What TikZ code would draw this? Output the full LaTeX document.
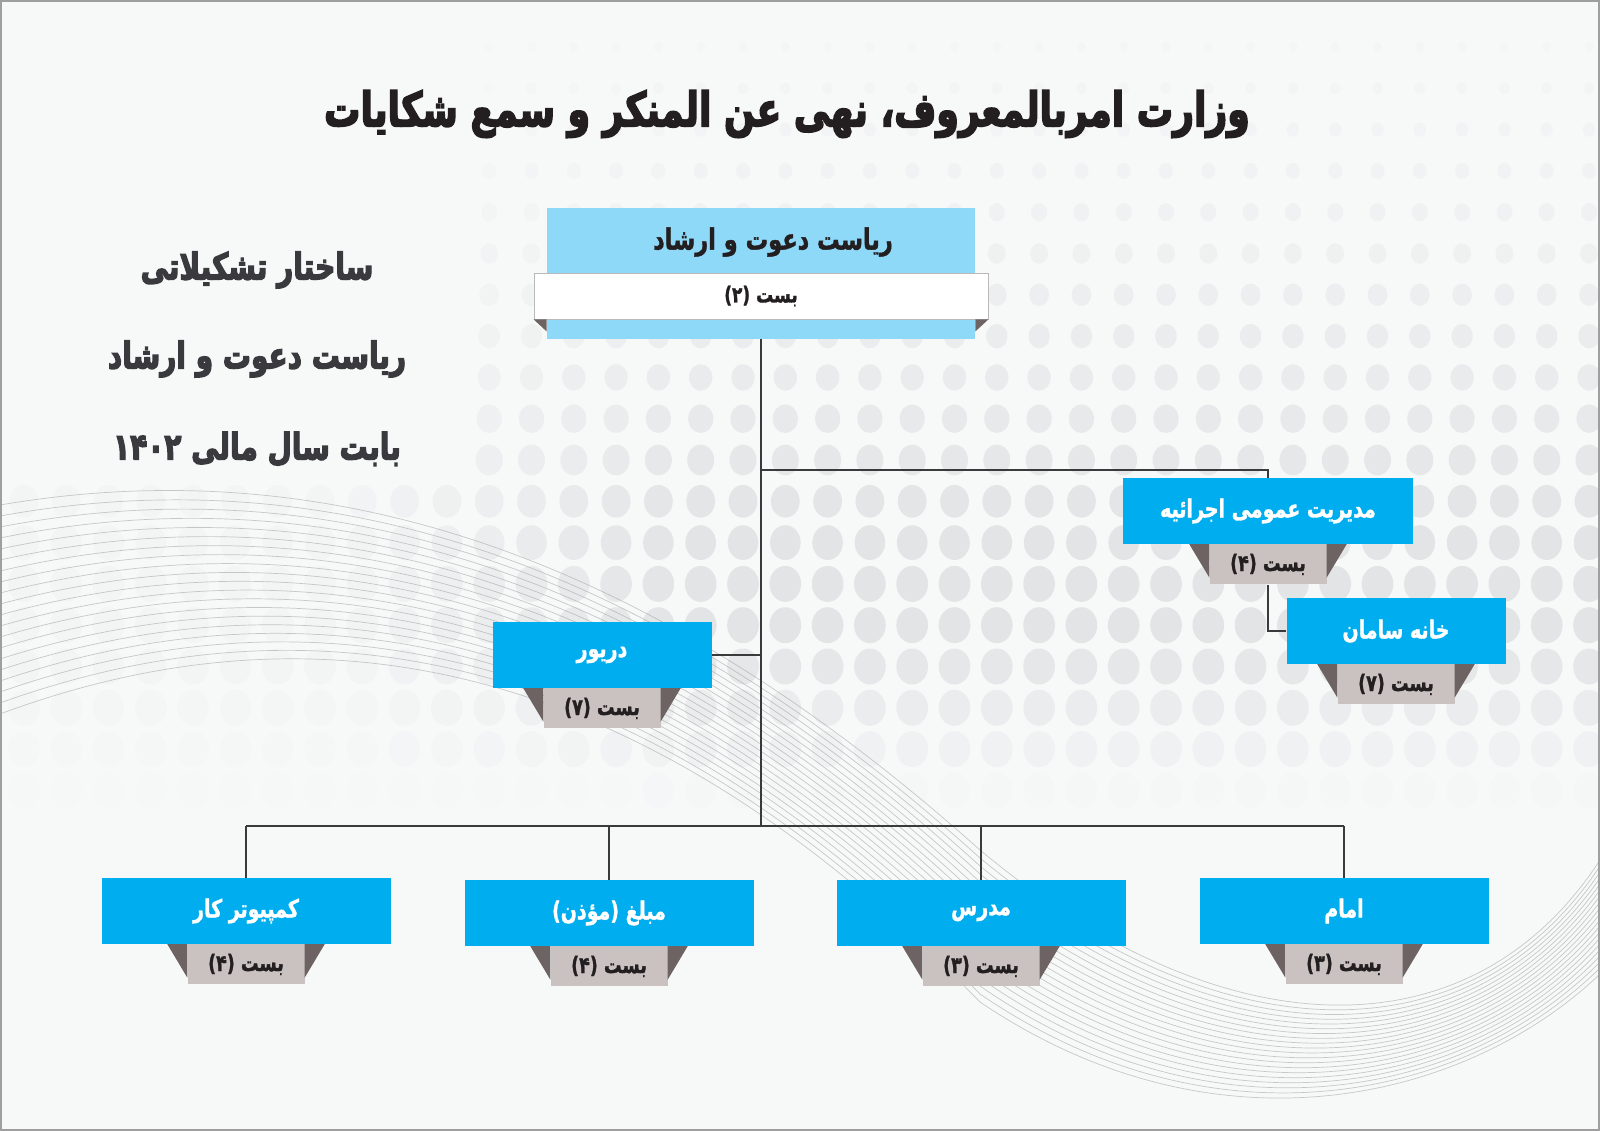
\documentclass[tikz,border=0pt]{standalone}
\usepackage{fontspec}
\usepackage{graphicx}
\usepackage{tikz}
\usetikzlibrary{positioning, calc}
\TeXXeTstate=1
\newfontfamily\fa[Script=Arabic, FakeBold=1.5]{DejaVu Sans Bold}
\newfontfamily\faheavy[Script=Arabic, FakeBold=4]{DejaVu Sans Bold}
\definecolor{boxblue}{RGB}{0,174,239}
\definecolor{headblue}{RGB}{142,216,248}
\definecolor{tabgray}{RGB}{201,194,193}
\definecolor{folddark}{RGB}{108,99,98}
\definecolor{ink}{RGB}{35,31,32}
\definecolor{wire}{RGB}{58,58,60}
\definecolor{paper}{RGB}{247,248,248}
\definecolor{dotgray}{RGB}{227,228,230}
\definecolor{titlegray}{RGB}{58,58,62}
\newcommand\rtltext[1]{\beginR#1\endR}
\newcommand\tall[1]{\scalebox{1}[1.3]{\rtltext{#1}}}

\begin{document}
\begin{tikzpicture}[x=1pt, y=-1pt,
    unit/.style={fill=boxblue, text=white, inner sep=0pt, minimum height=66pt,
        font=\fa\fontsize{19}{22}\selectfont},
    post/.style={fill=tabgray, text=ink, inner sep=0pt, minimum width=117pt, minimum height=40pt,
        font=\fa\fontsize{17.5}{20}\selectfont},
    fold/.style={fill=folddark},
    caption/.style={text=titlegray, font=\faheavy\fontsize{28}{34}\selectfont},
    link/.style={draw=wire, line width=1.8pt}
]
    \useasboundingbox (0,0) rectangle (1600,1131);
    \fill[paper] (0,0) rectangle (1600,1131);

    \foreach \k in {0,...,21}{
        \foreach \j in {0,...,37}{
            \pgfmathsetmacro\dx{1589-42.3*\j}
            \pgfmathsetmacro\dy{47+41.3*\k}
            \pgfmathsetmacro\dr{5+13*min(1,max(0,(\dy-47)/520))}
            \pgfmathsetmacro\oy{\dy<520 ? 0.15+0.85*((\dy-47)/473)^1.5 : max(0,1-max(0,\dy-640)/160)}
            \pgfmathsetmacro\ox{\dx>700 ? 1 : (\dx>350 ? 0.2+0.8*(\dx-350)/350 : 0.2)}
            \pgfmathsetmacro\og{(\dx<470 && \dy<470) ? 0 : \ox*\oy}
            \fill[dotgray, fill opacity=\og] (\dx,\dy) ellipse[x radius=0.88*\dr, y radius=\dr];
        }
    }
    \foreach \i in {0,...,19}{
        \draw[gray!75, line width=0.7pt, opacity=0.55]
            (0,505+11*\i) .. controls (380,440+7*\i) and (700,600+6*\i) .. (980,850+8*\i)
            .. controls (1220,1050+6*\i) and (1470,1060+2*\i) .. (1600,860+6*\i);
    }

    \node[text=ink, font=\faheavy\fontsize{36.2}{42}\selectfont] (ministry) at (787,114)
        {\tall{وزارت امربالمعروف، نهی عن المنکر و سمع شکایات}};
    \node[caption] (chart) at (257,270) {\tall{ساختار تشکیلاتی}};
    \node[caption] (office) at (257,359) {\tall{ریاست دعوت و ارشاد}};
    \node[caption] (year) at (257,449) {\tall{بابت سال مالی ۱۴۰۲}};

    \node[fill=headblue, minimum width=428pt, minimum height=131pt] (head) at (761,273.5) {};
    \coordinate (split) at (761,470);
    \coordinate (hub) at (761,826);

    \node[unit, minimum width=290pt] (ops) at (1268,511) {\tall{مدیریت عمومی اجرائیه}};
    \node[post, below=0pt of ops] (opspost) {\tall{بست (۴)}};
    \node[unit, minimum width=219pt] (saman) at (1396,631) {\tall{خانه سامان}};
    \node[post, below=0pt of saman] (samanpost) {\tall{بست (۷)}};
    \node[unit, minimum width=219pt] (driver) at (602,655) {\tall{دریور}};
    \node[post, below=0pt of driver] (driverpost) {\tall{بست (۷)}};

    \node[unit, minimum width=289pt] (comp) at (246,911) {\tall{کمپیوتر کار}};
    \node[post, below=0pt of comp] (comppost) {\tall{بست (۴)}};
    \node[unit, minimum width=289pt] (moazzen) at (609,913) {\tall{مبلغ (مؤذن)}};
    \node[post, below=0pt of moazzen] (moazzenpost) {\tall{بست (۴)}};
    \node[unit, minimum width=289pt] (teacher) at (981,913) {\tall{مدرس}};
    \node[post, below=0pt of teacher] (teacherpost) {\tall{بست (۳)}};
    \node[unit, minimum width=289pt] (imam) at (1344,911) {\tall{امام}};
    \node[post, below=0pt of imam] (imampost) {\tall{بست (۳)}};

    \draw[link] (head.south) -- (hub);
    \draw[link] (split) -| (ops.north);
    \draw[link] (opspost.south) |- (saman.west);
    \draw[link] (driver.east) -- (driver.east -| head.south);
    \draw[link] (comp.north |- hub) -- (imam.north |- hub);
    \foreach \n in {comp, moazzen, teacher, imam}
        \draw[link] (\n.north |- hub) -- (\n.north);

    \foreach \n in {opspost, samanpost, driverpost, comppost, moazzenpost, teacherpost, imampost}{
        \fill[fold] ($(\n.north west)+(-20,0)$) -- (\n.north west) -- ($(\n.south west)+(0,-7)$) -- cycle;
        \fill[fold] ($(\n.north east)+(20,0)$) -- (\n.north east) -- ($(\n.south east)+(0,-7)$) -- cycle;
    }

    \node[fill=white, draw=gray!55, line width=0.8pt, minimum width=454pt, minimum height=46pt,
        text=ink, font=\fa\fontsize{17}{20}\selectfont] (headpost) at (761,296) {\tall{بست (۲)}};
    \fill[fold] (headpost.south west) -- ($(headpost.south west)+(13,0)$) -- ($(headpost.south west)+(13,12)$) -- cycle;
    \fill[fold] (headpost.south east) -- ($(headpost.south east)+(-13,0)$) -- ($(headpost.south east)+(-13,12)$) -- cycle;
    \node[text=ink, font=\fa\fontsize{22.5}{26}\selectfont] (headtitle) at (773,242)
        {\tall{ریاست دعوت و ارشاد}};

    \draw[gray!75, line width=2pt] (1,1) rectangle (1599,1130);
\end{tikzpicture}
\end{document}
